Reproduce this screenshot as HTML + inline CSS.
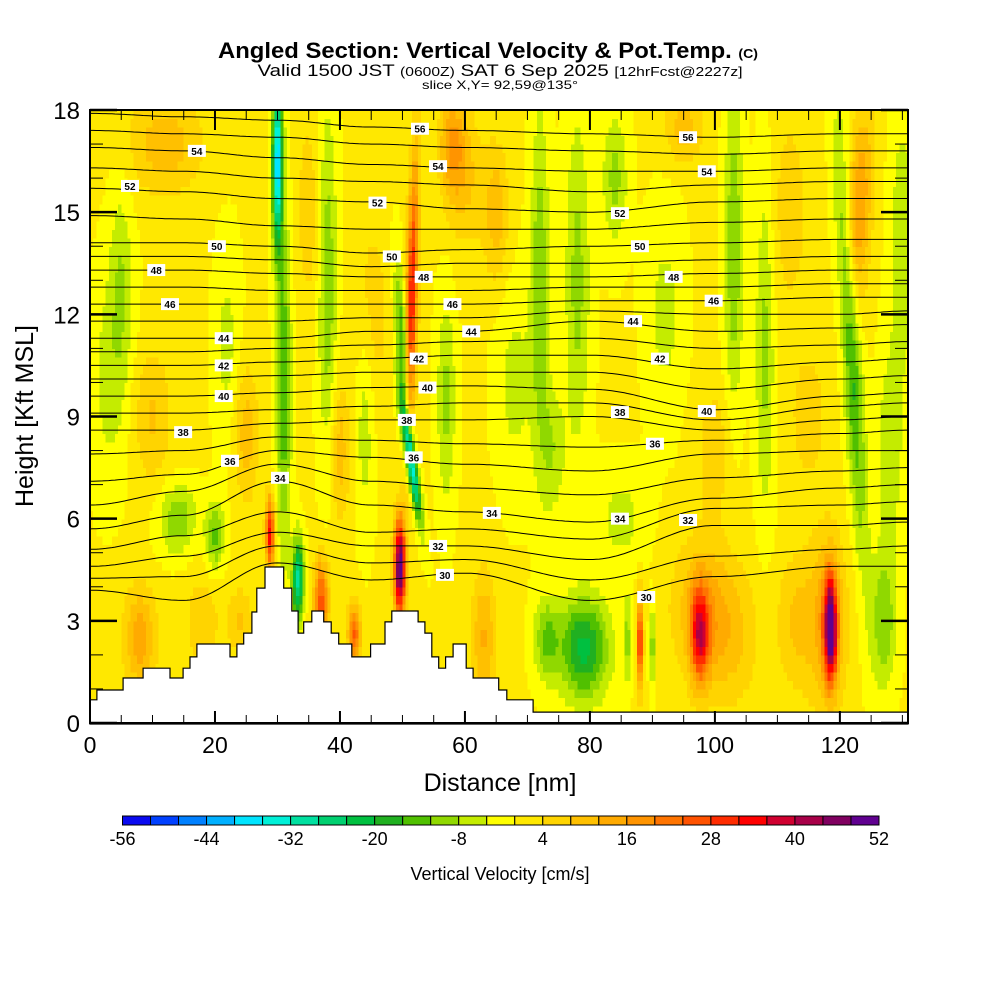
<!DOCTYPE html>
<html><head><meta charset="utf-8"><style>
html,body{margin:0;padding:0;background:#fff;}
svg{display:block;font-family:"Liberation Sans",Arial,sans-serif;}
</style></head><body>
<svg id="chart" width="1000" height="1000" viewBox="0 0 1000 1000" xmlns="http://www.w3.org/2000/svg">
<g>
<text x="488" y="58" text-anchor="middle" font-size="22" font-weight="bold" textLength="540" lengthAdjust="spacingAndGlyphs">Angled Section: Vertical Velocity &amp; Pot.Temp. <tspan font-size="13">(C)</tspan></text>
<text x="500" y="76" text-anchor="middle" font-size="17" textLength="485" lengthAdjust="spacingAndGlyphs">Valid 1500 JST <tspan font-size="13">(0600Z)</tspan> SAT 6 Sep 2025 <tspan font-size="13">[12hrFcst@2227z]</tspan></text>
<text x="500" y="89" text-anchor="middle" font-size="12" textLength="156" lengthAdjust="spacingAndGlyphs">slice X,Y= 92,59@135°</text>
</g>
<defs><clipPath id="plotclip"><rect x="90" y="110" width="818" height="613"/></clipPath></defs>
<g id="field" clip-path="url(#plotclip)" shape-rendering="crispEdges"></g>
<g id="contours" clip-path="url(#plotclip)"></g>
<g id="terrain"></g>
<g id="labels"></g>
<g id="axes"></g>
<g id="cbar"></g>
<text x="500" y="791" text-anchor="middle" font-size="25">Distance [nm]</text>
<text transform="translate(33,416) rotate(-90)" text-anchor="middle" font-size="25">Height [Kft MSL]</text>
<text x="500" y="880" text-anchor="middle" font-size="18">Vertical Velocity [cm/s]</text>
</svg>
<script>
// ---- data ----
const cbColors = ["#0a0af0","#0040ff","#0080ff","#00b0ff","#00e4ff","#00f0d8","#00e0a0","#00d070","#00c040","#20b020","#50c000","#90d800","#c4ec00","#ffff00","#ffe800","#ffd400","#ffc000","#ffaa00","#ff9400","#ff7400","#ff5200","#ff2c00","#ff0000","#d00030","#a80048","#800060","#600090"];
const cbTicks = [-56,-44,-32,-20,-8,4,16,28,40,52];
const xTicks = [0,20,40,60,80,100,120];
const yTicks = [0,3,6,9,12,15,18];
// terrain steps: start distance (nm) and height (kft)
const terrX = [0,1.1,5.3,8.5,12.8,14.9,16,17.1,22.4,23.5,24.6,25.9,26.7,28,31,32.3,33.3,34.2,35.5,37.4,38.6,39.8,41.9,44.9,47.2,48.3,52.5,53.6,54.7,55.8,56.9,58.1,60.2,61.3,65.4,66.7,70.9];
const terrH = [0.68,0.97,1.32,1.61,1.32,1.61,1.94,2.32,1.94,2.32,2.64,3.26,3.96,4.58,3.96,3.29,2.64,2.97,3.29,2.97,2.64,2.32,1.94,2.32,2.97,3.29,2.97,2.64,1.94,1.61,1.94,2.32,1.61,1.32,0.97,0.68,0.32];
// velocity features: centre (nm,kft), half-width (nm), half-height (kft), value (cm/s), slope (nm per kft)
const featX = [30,31,51.5,51.3,50,49.6,28.8,33.3,37,42.3,79,73,88,86,90,97.6,98,118.5,118,121.8,127,123,12,38,72,78,103,108,5,57,44,14,20,63,25,10,40,58,95,74,84,65,3,18,45,68,92,112,130,100,22,60,85,115,35,8,128,102,113,8,24];
const featY = [16.5,10,12.5,7.8,11,4.6,5.6,4.2,3.6,2.6,2.2,2.5,2.4,2.5,2.3,2.6,3.5,2.8,3,11,3,15,17,13,13,13,14,11,13,9.5,9,6,5.5,2.5,8.5,9,8,17,17.5,8,16,15,10,3,12,10,12,15,14,8,11,16,6,9,15,2.5,8,2.5,3,2.5,3];
const featW = [0.8,1.2,0.9,0.8,1,0.9,0.7,0.9,1.2,1.0,4,2,0.5,0.6,0.5,1.5,5,1.0,3,1.5,2,2,6,1.5,1.5,2,1.5,1.5,2,1.5,1.5,3,1.5,2,2,3,1.5,2,3,2,2,2,3,3,3,3,3,3,2,3,2,3,4,3,2,2,2,5,3,3,2];
const featH = [2.5,5,4,1.8,2.5,1.4,1.0,1.2,1.2,0.9,1.5,1.2,1.3,1.3,1.2,1.4,2,1.5,2.5,6,2,3,1.5,5,5,5,5,5,3,3,3,1,1,2,2,2,2,1.5,1,2,2,2,3,1.5,3,3,3,3,4,2,3,2,1.5,2,3,1.5,3,2,2,1.5,1];
const featV = [-40,-16,32,-38,-18,52,34,-30,26,24,-22,-12,34,-10,-12,30,10,48,14,-18,-12,16,10,-12,-12,-10,-12,-10,-8,-10,-8,-12,-14,12,10,8,10,14,10,-8,-10,10,-6,6,6,-6,-6,6,-8,6,-6,8,-6,6,6,6,-8,8,8,8,8];
const featS = [0,0,0.13,-0.8,-0.3,0,0,0,0,0,0,0,0,0,0,0,0,0,0,-0.3,0,0.3,0,0,0,0,0,0,0,0,0,0,0,0,0,0,0,0,0,0,0,0,0,0,0,0,0,0,0,0,0,0,0,0,0,0,0,0,0,0,0];
const baseV = 0.5;
// potential temperature contours: heights (kft) at knots
const thKnots = [0,15,30,45,60,80,100,120,131];
const thLevels = [30,31,32,33,34,35,36,37,38,39,40,41,42,43,44,45,46,47,48,49,50,51,52,53,54,55,56];
const thH = [
[3.9,3.6,4.7,4.2,4.4,3.6,4.3,4.6,4.6],
[4.25,4.3,5.2,4.7,4.8,4.2,4.9,5.1,5.2],
[4.6,4.9,5.6,5.2,5.2,4.8,5.8,5.8,5.9],
[5.1,5.5,6.2,5.6,5.7,5.4,6.3,6.4,6.5],
[5.7,6.1,7.1,6.4,6.2,5.9,6.6,6.9,7.0],
[6.4,6.8,7.6,7.1,6.9,6.7,7.2,7.4,7.5],
[7.1,7.3,8.0,7.8,7.6,7.4,7.9,8.0,8.0],
[7.9,8.0,8.4,8.3,8.2,8.1,8.3,8.5,8.6],
[8.6,8.6,8.8,8.9,8.9,9.0,8.6,8.9,9.0],
[9.1,9.1,9.2,9.3,9.4,9.4,8.9,9.3,9.4],
[9.6,9.6,9.7,9.85,9.9,9.8,9.2,9.6,9.7],
[10.1,10.1,10.2,10.3,10.3,10.3,9.8,10.1,10.2],
[10.5,10.5,10.6,10.7,10.8,10.8,10.4,10.6,10.7],
[10.9,10.9,11.0,11.1,11.2,11.3,11.0,11.1,11.2],
[11.3,11.3,11.3,11.5,11.5,11.8,11.5,11.6,11.7],
[11.8,11.8,11.8,11.9,11.9,12.1,12.0,12.0,12.1],
[12.3,12.3,12.3,12.3,12.3,12.4,12.4,12.5,12.5],
[12.8,12.8,12.7,12.7,12.7,12.8,12.8,12.9,12.9],
[13.3,13.3,13.2,13.1,13.1,13.1,13.2,13.3,13.3],
[13.7,13.7,13.6,13.4,13.5,13.5,13.6,13.7,13.7],
[14.1,14.1,14.0,13.8,13.9,14.0,14.1,14.2,14.2],
[14.9,14.8,14.6,14.5,14.5,14.5,14.7,14.8,14.8],
[15.7,15.6,15.4,15.3,15.1,15.0,15.3,15.4,15.4],
[16.3,16.2,16.0,15.9,15.8,15.6,15.8,15.9,15.9],
[16.9,16.8,16.6,16.4,16.3,16.2,16.2,16.3,16.3],
[17.4,17.3,17.2,17.0,16.9,16.8,16.7,16.8,16.8],
[17.9,17.8,17.7,17.5,17.4,17.3,17.2,17.3,17.3]];
const lblLevel = [56,56,54,54,54,52,52,52,50,50,50,48,48,48,46,46,46,44,44,44,42,42,42,40,40,40,38,38,38,36,36,36,34,34,34,32,32,30,30];
const lblX = [52.8,95.7,17.1,55.7,98.7,6.4,46,84.8,20.3,48.3,88,10.6,53.4,93.4,12.8,58,99.8,21.4,61,86.9,21.4,52.6,91.2,21.4,54,98.7,14.9,50.7,84.8,22.4,51.8,90.4,30.4,64.3,84.8,55.7,95.7,56.8,89];
const lblY = [17.45,17.2,16.8,16.35,16.2,15.77,15.28,14.97,14.0,13.7,14.0,13.3,13.1,13.1,12.3,12.3,12.4,11.3,11.5,11.8,10.5,10.7,10.7,9.6,9.85,9.16,8.54,8.9,9.13,7.7,7.8,8.2,7.2,6.17,6.0,5.2,5.96,4.35,3.7];

// ---- scales ----
const X0=90,X1=908,XMAX=130.9,Y0=723,Y1=110,YMAX=18;
const sx = d => X0 + d*(X1-X0)/XMAX;
const sy = h => Y0 - h*(Y0-Y1)/YMAX;
const NS="http://www.w3.org/2000/svg";
function mk(tag, attrs, parent){const e=document.createElementNS(NS,tag);for(const k in attrs)e.setAttribute(k,attrs[k]);parent.appendChild(e);return e;}
function colorOf(v){let i=Math.floor((v+56)/4);if(i<0)i=0;if(i>26)i=26;return cbColors[i];}

// ---- field ----
const field=document.getElementById('field');
const DX=0.5, DY=0.25;
for(let xi=0; xi*DX<XMAX; xi++){
  for(let yi=0; yi*DY<YMAX; yi++){
    const x=xi*DX+DX/2, y=yi*DY+DY/2;
    let v=baseV;
    for(let k=0;k<featX.length;k++){
      const cx=featX[k]+featS[k]*(y-featY[k]);
      const a=(x-cx)/featW[k], b=(y-featY[k])/featH[k];
      v+=featV[k]*Math.exp(-a*a-b*b);
    }
    const r=mk('rect',{x:sx(xi*DX).toFixed(2),y:sy((yi+1)*DY).toFixed(2),width:(sx(DX)-X0+0.6).toFixed(2),height:(Y0-sy(DY)+0.6).toFixed(2),fill:colorOf(v)},field);
    
    
  }
}

// ---- contours ----
const cont=document.getElementById('contours');
thLevels.forEach((lv,i)=>{
  const hs=thH[i];
  let d='';
  for(let s=0;s<=262;s++){
    const x=s/2;
    let j=0; while(j<thKnots.length-2 && x>thKnots[j+1]) j++;
    const t=Math.min(1,(x-thKnots[j])/(thKnots[j+1]-thKnots[j]));
    const tt=(1-Math.cos(Math.PI*t))/2;
    const h=hs[j]+(hs[j+1]-hs[j])*tt;
    d+=(s?'L':'M')+sx(x).toFixed(1)+','+sy(h).toFixed(1);
  }
  const p=mk('path',{d:d,fill:'none',stroke:'#000','stroke-width':1},cont);
  
  
});

// ---- terrain ----
const terr=document.getElementById('terrain');
let td='M'+sx(0)+','+(Y0+1);
for(let i=0;i<terrX.length;i++){
  const xe = i<terrX.length-1 ? terrX[i+1] : XMAX;
  td+='L'+sx(terrX[i]).toFixed(1)+','+sy(terrH[i]).toFixed(1)+'L'+sx(xe).toFixed(1)+','+sy(terrH[i]).toFixed(1);
}
td+='L'+X1+','+(Y0+1)+'Z';
const tp=mk('path',{d:td,fill:'#fff',stroke:'#000','stroke-width':1.2},terr);



// ---- contour labels ----
const lg=document.getElementById('labels');
lblLevel.forEach((lv,i)=>{
  const x=sx(lblX[i]), y=sy(lblY[i]);
  const r=mk('rect',{x:x-9,y:y-6,width:18,height:12,fill:'#fff'},lg);
  
  
  const t=mk('text',{x:x,y:y+4,'text-anchor':'middle','font-size':10,'font-weight':'bold'},lg);
  t.textContent=lv;
  
  
});

// ---- axes ----
const ax=document.getElementById('axes');
const frame=mk('rect',{x:X0,y:Y1,width:X1-X0,height:Y0-Y1,fill:'none',stroke:'#000','stroke-width':2},ax);


for(let d=0; d<=130; d+=5){
  const major=(d%20===0), L=major?12:8, x=sx(d);
  const t1=mk('line',{x1:x,y1:Y0,x2:x,y2:Y0-L,stroke:'#000','stroke-width':major?2:1},ax);
  
  
  const t2=mk('line',{x1:x,y1:Y1,x2:x,y2:Y1+(major?20:10),stroke:'#000','stroke-width':major?2:1},ax);
  
  
}
xTicks.forEach(v=>{
  const t=mk('text',{x:sx(v),y:753,'text-anchor':'middle','font-size':23},ax);
  t.textContent=v;
  
  
});
for(let h=0; h<=18; h++){
  const major=(h%3===0), L=major?27:13, y=sy(h);
  const a=mk('line',{x1:X0,y1:y,x2:X0+L,y2:y,stroke:'#000','stroke-width':major?2.5:1},ax);
  
  
  const b=mk('line',{x1:X1,y1:y,x2:X1-L,y2:y,stroke:'#000','stroke-width':major?2.5:1},ax);
  
  
}
yTicks.forEach(v=>{
  const t=mk('text',{x:80,y:sy(v)+9,'text-anchor':'end','font-size':24},ax);
  t.textContent=v;
  
  
});

// ---- colorbar ----
const cb=document.getElementById('cbar');
const CB0=122.5, CB1=879, CBY=816, CBH=9, bw=(CB1-CB0)/cbColors.length;
cbColors.forEach((c,i)=>{
  const r=mk('rect',{x:CB0+i*bw,y:CBY,width:bw,height:CBH,fill:c,stroke:'#000','stroke-width':1},cb);
  
  
});
cbTicks.forEach(v=>{
  const t=mk('text',{x:CB0+(v+56)/4*bw,y:845,'text-anchor':'middle','font-size':18},cb);
  t.textContent=v;
  
  
});
</script>
</body></html>
